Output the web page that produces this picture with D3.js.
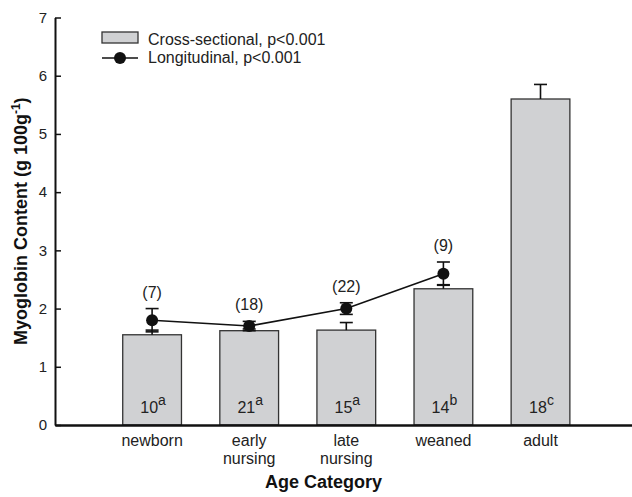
<!DOCTYPE html>
<html>
<head>
<meta charset="utf-8">
<script src="https://cdn.jsdelivr.net/npm/d3@7"></script>
<style>
  html, body { margin: 0; padding: 0; background: #fff; }
  svg { display: block; font-family: "Liberation Sans", Arial, Helvetica, sans-serif; }
</style>
</head>
<body>
<svg id="chart" width="632" height="497"></svg>
<script>
// Age categories (multi-line labels)
const categories = [["newborn"], ["early", "nursing"], ["late", "nursing"], ["weaned"], ["adult"]];

// Cross-sectional sample: mean, SE, sample size and significance group
const crossMean = [1.55, 1.62, 1.63, 2.34, 5.6];
const crossSE = [0.08, 0.03, 0.13, 0.07, 0.25];
const crossN = [10, 21, 15, 14, 18];
const crossGroup = ["a", "a", "a", "b", "c"];

// Longitudinal sample (first four categories)
const longMean = [1.8, 1.7, 2.0, 2.6];
const longSE = [0.2, 0.08, 0.1, 0.2];
const longN = [7, 18, 22, 9];

const yTicks = [0, 1, 2, 3, 4, 5, 6, 7];

const svg = d3.select("#chart");
const barFill = "#d0d1d3";
const ink = "#111";

const x = d3.scaleLinear().domain([0, 6]).range([55, 637.6]);
const y = d3.scaleLinear().domain([0, 7]).range([425, 17.5]);
const barW = 0.605;          // bar width in category units
const capW = 6.5;            // half width of error-bar caps, px

// Axes
const yAxis = svg.append("g")
  .attr("transform", `translate(${x(0)},0)`)
  .call(d3.axisLeft(y).tickValues(yTicks).tickFormat(d3.format("d"))
    .tickSizeInner(-6).tickSizeOuter(0).tickPadding(8));
yAxis.select(".domain").attr("stroke", ink).attr("stroke-width", 2);
yAxis.selectAll(".tick line").attr("stroke", ink).attr("stroke-width", 1.5);
yAxis.selectAll(".tick text").attr("font-size", 15).attr("fill", "#222")
  .attr("font-family", "Liberation Sans, Arial, sans-serif");

// Bars
const idx = d3.range(categories.length);
svg.append("g").selectAll("rect").data(idx).join("rect")
  .attr("x", i => x(i + 1 - barW / 2))
  .attr("width", x(barW) - x(0))
  .attr("y", i => y(crossMean[i]))
  .attr("height", i => y(0) - y(crossMean[i]))
  .attr("fill", barFill).attr("stroke", "#333").attr("stroke-width", 1.3);

// Cross-sectional error bars (upper only)
const crossErr = svg.append("g").attr("stroke", ink).attr("stroke-width", 1.6);
idx.forEach(i => {
  const cx = x(i + 1);
  crossErr.append("line").attr("x1", cx).attr("x2", cx)
    .attr("y1", y(crossMean[i])).attr("y2", y(crossMean[i] + crossSE[i]));
  crossErr.append("line").attr("x1", cx - capW).attr("x2", cx + capW)
    .attr("y1", y(crossMean[i] + crossSE[i])).attr("y2", y(crossMean[i] + crossSE[i]));
});

// Sample sizes with group letters inside bars
svg.append("g").selectAll("text").data(idx).join("text")
  .attr("x", i => x(i + 1) + 1)
  .attr("y", 413)
  .attr("text-anchor", "middle")
  .attr("font-size", 16).attr("fill", "#222")
  .each(function(i) {
    const t = d3.select(this);
    t.append("tspan").text(crossN[i]);
    t.append("tspan").attr("dy", -8).attr("font-size", 14).text(crossGroup[i]);
  });

// X axis
const xAxis = svg.append("g")
  .attr("transform", `translate(0,${y(0)})`)
  .call(d3.axisBottom(x).tickValues([]).tickSizeOuter(0));
xAxis.select(".domain").attr("stroke", ink).attr("stroke-width", 2.5);

// Category labels
svg.append("g").selectAll("text").data(idx).join("text")
  .attr("x", i => x(i + 1))
  .attr("y", 446)
  .attr("text-anchor", "middle")
  .attr("font-size", 16).attr("fill", "#222")
  .each(function(i) {
    const t = d3.select(this);
    categories[i].forEach((line, k) => {
      t.append("tspan").attr("x", x(i + 1)).attr("dy", k === 0 ? 0 : 18).text(line);
    });
  });

// Longitudinal line with error bars and markers
const lidx = d3.range(longMean.length);
svg.append("path")
  .datum(lidx)
  .attr("fill", "none").attr("stroke", ink).attr("stroke-width", 1.6)
  .attr("d", d3.line().x(i => x(i + 1)).y(i => y(longMean[i])));

const longErr = svg.append("g").attr("stroke", ink).attr("stroke-width", 1.6);
lidx.forEach(i => {
  const cx = x(i + 1);
  const lo = y(longMean[i] - longSE[i]);
  const hi = y(longMean[i] + longSE[i]);
  longErr.append("line").attr("x1", cx).attr("x2", cx).attr("y1", lo).attr("y2", hi);
  [lo, hi].forEach(v => longErr.append("line")
    .attr("x1", cx - capW).attr("x2", cx + capW).attr("y1", v).attr("y2", v));
});

svg.append("g").selectAll("circle").data(lidx).join("circle")
  .attr("cx", i => x(i + 1)).attr("cy", i => y(longMean[i]))
  .attr("r", 6).attr("fill", ink);

// Longitudinal sample sizes above the error bars
svg.append("g").selectAll("text").data(lidx).join("text")
  .attr("x", i => x(i + 1))
  .attr("y", i => y(longMean[i] + longSE[i]) - 11)
  .attr("text-anchor", "middle")
  .attr("font-size", 16).attr("fill", "#222")
  .text(i => `(${longN[i]})`);

// Axis titles
svg.append("text")
  .attr("x", x(0) + (632 - x(0)) / 2 - 20)
  .attr("y", 488)
  .attr("text-anchor", "middle")
  .attr("font-size", 18).attr("font-weight", "bold").attr("fill", "#111")
  .text("Age Category");

const yTitle = svg.append("text")
  .attr("transform", `translate(27,${(y(0) + y(7)) / 2}) rotate(-90)`)
  .attr("text-anchor", "middle")
  .attr("font-size", 18).attr("font-weight", "bold").attr("fill", "#111");
yTitle.append("tspan").text("Myoglobin Content (g 100g");
yTitle.append("tspan").attr("dy", -7).attr("font-size", 12).text("-1");
yTitle.append("tspan").attr("dy", 7).text(")");

// Legend
const legend = svg.append("g");
legend.append("rect").attr("x", 102).attr("y", 32).attr("width", 36).attr("height", 11)
  .attr("fill", barFill).attr("stroke", "#333").attr("stroke-width", 1.3);
legend.append("line").attr("x1", 102).attr("x2", 138).attr("y1", 58).attr("y2", 58)
  .attr("stroke", ink).attr("stroke-width", 1.6);
legend.append("circle").attr("cx", 120).attr("cy", 58).attr("r", 6).attr("fill", ink);
legend.append("text").attr("x", 148).attr("y", 45).attr("font-size", 16).attr("fill", "#222")
  .text("Cross-sectional, p<0.001");
legend.append("text").attr("x", 148).attr("y", 63).attr("font-size", 16).attr("fill", "#222")
  .text("Longitudinal, p<0.001");
</script>
</body>
</html>
